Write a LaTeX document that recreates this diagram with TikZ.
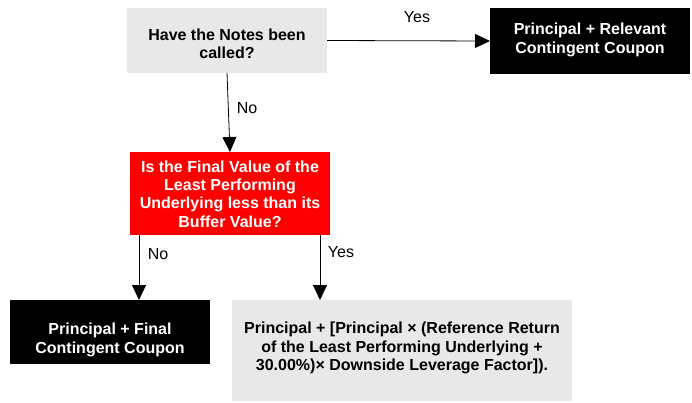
\documentclass[tikz,border=0pt]{standalone}
\usepackage{fontspec}
\setmainfont{Liberation Sans}
\usetikzlibrary{arrows.meta,calc}
\definecolor{boxgray}{HTML}{E8E8E8}
\definecolor{boxred}{HTML}{FF0000}
\begin{document}
\begin{tikzpicture}[x=1pt,y=-1pt,
  every node/.style={inner sep=0pt,outer sep=0pt},
  txt/.style={font=\fontsize{16}{18.3}\selectfont\bfseries,align=center},
  lbl/.style={font=\fontsize{16}{18}\selectfont,anchor=center},
  graybox/.style={fill=boxgray,draw=none},
  blackbox/.style={fill=black,draw=none},
  redbox/.style={fill=boxred,draw=none},
  arr/.style={line width=0.8pt,-{Triangle[length=15pt,width=14pt]}}]
\useasboundingbox (0,0) rectangle (692,402);
% boxes
\node[graybox,minimum width=200pt,minimum height=65pt] (q1) at (227,40.5) {};
\node[txt] (q1t) at (227,44) {Have the Notes been\\called?};
\node[blackbox,minimum width=200pt,minimum height=66pt] (r1) at (590,41) {};
\node[txt,text=white] (r1t) at (590,40) {Principal + Relevant\\Contingent Coupon};
\node[redbox,minimum width=200pt,minimum height=83pt] (q2) at (230,193.5) {};
\node[txt,text=white] (q2t) at (230,194) {Is the Final Value of the\\Least Performing\\Underlying less than its\\Buffer Value?};
\node[blackbox,minimum width=200pt,minimum height=64pt] (r2) at (110,332) {};
\node[txt,text=white] (r2t) at (110,340) {Principal + Final\\Contingent Coupon};
\node[graybox,minimum width=340pt,minimum height=101pt] (r3) at (402,350.5) {};
\node[txt] (r3t) at (402,348) {Principal + [Principal × (Reference Return\\of the Least Performing Underlying +\\30.00\%)× Downside Leverage Factor]).};
% connectors
\draw[arr] (q1.east) -- (r1.west);
\node[lbl] (yes1) at (417,17) {Yes};
\draw[arr] (q1.south) -- (q2.north);
\node[lbl] (no1) at (247,108) {No};
\coordinate (qa) at ($(q2.south west)+(9,0)$);
\coordinate (qb) at ($(q2.south west)+(190,0)$);
\draw[arr] (qa) -- (qa |- r2.north);
\node[lbl] (no2) at (158,254) {No};
\draw[arr] (qb) -- (qb |- r3.north);
\node[lbl] (yes2) at (341,252) {Yes};
\end{tikzpicture}
\end{document}
